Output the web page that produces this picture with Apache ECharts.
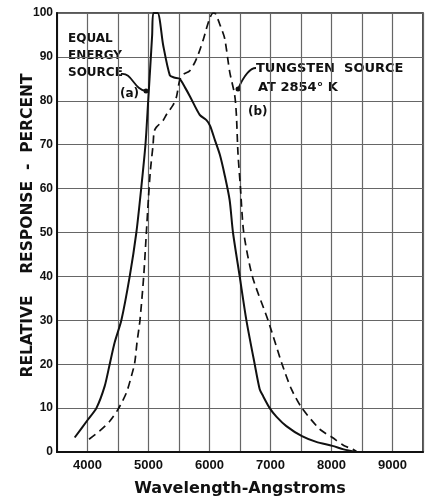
<!DOCTYPE html>
<html>
<head>
<meta charset="utf-8">
<script src="https://cdn.jsdelivr.net/npm/echarts@6/dist/echarts.min.js"></script>
<style>
html,body{margin:0;padding:0;background:#fff;}
#chart{width:431px;height:502px;}
</style>
</head>
<body>
<div id="chart"></div>
<script>
// Curve (a): Equal energy source
var equalWavelengths = [3790,4008,4146,4282,4364,4446,4555,4692,4801,4880,4950,4995,5030,5060,5080,5150,5240,5350,5420,5510,5600,5680,5840,5950,6010,6090,6170,6250,6330,6385,6495,6605,6741,6823,6880,6987,7100,7260,7516,7750,8015,8200,8408];
var equalResponse    = [3.3,7.4,10,15,20,25,30,40,50,60,70,80,88,95,100,100,92.7,85.8,85.3,85,83,81,76.8,75.6,74.3,71,67.7,63,57.4,50,40,30,20,14.3,12.7,10,8,5.9,3.6,2.3,1.4,0.6,0];

// Curve (b): Tungsten source at 2854 K
var tungstenWavelengths = [4025,4200,4364,4500,4638,4720,4774,4812,4860,4921,4965,5000,5030,5075,5092,5130,5238,5300,5402,5460,5511,5570,5675,5750,5811,5900,5949,6010,6060,6100,6180,6249,6331,6413,6440,6467,6506,6561,6703,6960,7190,7343,7516,7807,8015,8200,8352,8420];
var tungstenResponse    = [2.9,4.8,7,9.7,13.5,17.3,20.3,25,30,40,50,58,64,70,73,74,75.5,77,79,81,84.7,86,86.8,88.5,90.4,94,96.4,99,100,99.8,97,94.2,86.6,81.3,77,68,60.5,50,40,30,20,14.3,10,5.2,3.3,1.5,0.6,0];

var xTickLabels = ['4000','5000','6000','7000','8000','9000'];
var yTickLabels = ['0','10','20','30','40','50','60','70','80','90','100'];

function zip(xs, ys){ return xs.map(function(x,i){ return [x, ys[i]]; }); }

var chart = echarts.init(document.getElementById('chart'), null, {renderer:'canvas'});
var FONT = 'DejaVu Sans';
var TICKFONT = 'Liberation Sans';

chart.setOption({
  backgroundColor: '#ffffff',
  animation: false,
  grid: { left: 57, right: 8, top: 13, bottom: 49, show: true, borderColor: '#222', borderWidth: 1.6, containLabel: false },
  xAxis: {
    type: 'value', min: 3500, max: 9500, interval: 500,
    name: 'Wavelength-Angstroms', nameLocation: 'middle', nameGap: 29, nameMoveOverlap: false,
    nameTextStyle: { fontFamily: FONT, fontWeight: 'bold', fontSize: 16, color: '#111' },
    axisLine: { show: true, lineStyle: { color: '#111', width: 2 } },
    axisTick: { show: false },
    splitLine: { show: true, lineStyle: { color: '#666', width: 1.2 } },
    axisLabel: {
      margin: 7, fontFamily: TICKFONT, fontWeight: 'bold', fontSize: 13, color: '#111',
      formatter: function(v){ var s = String(v); return xTickLabels.indexOf(s) >= 0 ? s : ''; }
    }
  },
  yAxis: {
    type: 'value', min: 0, max: 100, interval: 10,
    name: 'RELATIVE    RESPONSE  -  PERCENT', nameLocation: 'middle', nameGap: 21, nameMoveOverlap: false,
    nameTextStyle: { fontFamily: FONT, fontWeight: 'bold', fontSize: 15.5, color: '#111', padding: [0, 0, 0, 14] },
    axisLine: { show: true, lineStyle: { color: '#111', width: 2 } },
    axisTick: { show: false },
    splitLine: { show: true, lineStyle: { color: '#666', width: 1.2 } },
    axisLabel: {
      margin: 4, fontFamily: TICKFONT, fontWeight: 'bold', fontSize: 12, color: '#111',
      formatter: function(v){ var s = String(v); return yTickLabels.indexOf(s) >= 0 ? s : ''; }
    }
  },
  series: [
    {
      name: 'Equal energy source (a)', type: 'line', smooth: 0.25, symbol: 'none',
      data: zip(equalWavelengths, equalResponse),
      lineStyle: { color: '#111', width: 2 }
    },
    {
      name: 'Tungsten source at 2854 K (b)', type: 'line', smooth: 0.25, symbol: 'none',
      data: zip(tungstenWavelengths, tungstenResponse),
      lineStyle: { color: '#111', width: 1.7, type: [8, 5] }
    }
  ],
  graphic: [
    { type: 'text', left: 68, top: 33, style: { text: 'EQUAL', font: 'bold 12px "DejaVu Sans"', fill: '#111' } },
    { type: 'text', left: 68, top: 50, style: { text: 'ENERGY', font: 'bold 12px "DejaVu Sans"', fill: '#111' } },
    { type: 'text', left: 68, top: 67, style: { text: 'SOURCE', font: 'bold 12px "DejaVu Sans"', fill: '#111' } },
    { type: 'bezierCurve', shape: { x1: 121, y1: 74, x2: 146, y2: 91, cpx1: 132, cpy1: 72, cpx2: 134, cpy2: 90 }, style: { stroke: '#111', lineWidth: 1.8, fill: null } },
    { type: 'circle', shape: { cx: 146, cy: 91, r: 2.5 }, style: { fill: '#111' } },
    { type: 'text', left: 120, top: 88, style: { text: '(a)', font: 'bold 12px "DejaVu Sans"', fill: '#111' } },
    { type: 'text', left: 256, top: 62, style: { text: 'TUNGSTEN  SOURCE', font: 'bold 13px "DejaVu Sans"', fill: '#111' } },
    { type: 'text', left: 258, top: 81, style: { text: 'AT 2854° K', font: 'bold 13px "DejaVu Sans"', fill: '#111' } },
    { type: 'bezierCurve', shape: { x1: 256, y1: 68, x2: 238, y2: 89, cpx1: 248, cpy1: 68, cpx2: 242, cpy2: 80 }, style: { stroke: '#111', lineWidth: 1.8, fill: null } },
    { type: 'circle', shape: { cx: 238, cy: 89, r: 2.5 }, style: { fill: '#111' } },
    { type: 'text', left: 248, top: 106, style: { text: '(b)', font: 'bold 12px "DejaVu Sans"', fill: '#111' } }
  ]
});
</script>
</body>
</html>
